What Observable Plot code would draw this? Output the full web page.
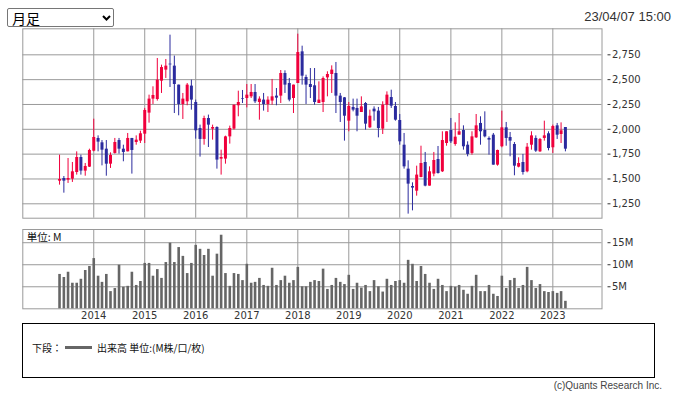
<!DOCTYPE html>
<html><head><meta charset="utf-8">
<script src="https://cdn.jsdelivr.net/npm/d3@7"></script>
<script src="https://cdn.jsdelivr.net/npm/@observablehq/plot@0.6"></script>
<style>
body{margin:0;width:674px;height:399px;position:relative;background:#fff;overflow:hidden;font-family:"Liberation Sans","Noto Sans CJK JP",sans-serif;}
#sel{position:absolute;left:7px;top:8px;width:107px;height:19px;border:1px solid #767676;border-radius:2px;box-sizing:border-box;background:#fff;}
#sel span{position:absolute;left:4px;top:0px;font:14px/18px "Noto Sans CJK JP",sans-serif;color:#000;}
#sel svg{position:absolute;left:94px;top:6px;}
#date{position:absolute;right:3px;top:9px;font:13px "Liberation Sans",sans-serif;color:#333;}
#price{position:absolute;left:0;top:0;}
#vol{position:absolute;left:0;top:222px;}
#legend{position:absolute;left:22px;top:323px;width:633px;height:55px;border:1px solid #000;box-sizing:border-box;font:10px "Noto Sans CJK JP",sans-serif;color:#111;}
#legend .row{position:absolute;left:9px;top:16px;display:flex;align-items:center;white-space:nowrap;}
#legend .ln{display:inline-block;width:27px;height:3px;background:#666;margin:0 5px 0 3px;}
#copy{position:absolute;right:12px;top:380px;font:10px "Liberation Sans",sans-serif;color:#444;}
</style></head>
<body>
<div id="sel"><span>月足</span><svg width="9" height="6" viewBox="0 0 9 6"><path d="M1 1 L4.5 4.5 L8 1" fill="none" stroke="#000" stroke-width="2"/></svg></div>
<div id="date">23/04/07 15:00</div>
<div id="price"></div>
<div id="vol"></div>
<div id="legend"><div class="row">下段：<span class="ln"></span>出来高 単位:(M株/口/枚)</div></div>
<div id="copy">(c)Quants Research Inc.</div>
<script>
// Monthly candles, May 2013 – Apr 2023
const startMonth = new Date(Date.UTC(2013, 4, 1));
const endMonth = new Date(Date.UTC(2023, 4, 1));
const open = [1478,1505,1488,1498,1565,1716,1579,1619,
 1780,1908,1864,1800,1649,1757,1887,1800,1773,1908,1867,1881,
 1951,2163,2304,2300,2485,2596,2656,2636,2445,2250,2277,2435,
 2270,2008,1898,2109,2002,2018,1700,1700,1924,2002,2237,2310,
 2310,2327,2371,2270,2294,2250,2284,2334,2334,2562,2461,2310,
 2461,2780,2522,2451,2438,2260,2270,2518,2552,2562,2334,2317,
 2082,2220,2210,2169,2260,2015,2203,2183,2002,2243,2320,2230,
 2089,1840,1599,1424,1377,1515,1666,1428,1549,1696,1572,1857,
 1988,1847,1941,1988,1840,1757,1914,2059,1988,1908,1941,1639,
 1824,2015,1918,1847,1619,1666,1572,1840,1908,1773,1908,1955,
 1814,2035,1948,2018];
const high = [1740,1525,1706,1666,1773,1740,1656,1800,
 2102,1934,1887,1887,1763,1908,1908,1840,1958,1908,1934,1981,
 2210,2344,2428,2713,2646,2703,2948,2737,2445,2361,2461,2495,
 2294,2042,2132,2143,2042,2025,1790,1931,2032,2243,2384,2391,
 2451,2451,2451,2327,2361,2327,2502,2411,2592,2589,2512,2445,
 2958,2837,2545,2612,2612,2478,2528,2579,2639,2673,2361,2320,
 2270,2304,2304,2327,2270,2193,2226,2220,2277,2377,2394,2270,
 2149,1958,1683,1461,1629,1830,1767,1622,1767,1827,1975,1975,
 2109,2065,2159,2035,1874,1975,2149,2126,2176,1924,1958,1790,
 2183,2069,1968,1867,1713,1747,1857,1975,1934,1908,2082,1975,
 2042,2059,2065,2018];
const low = [1438,1357,1455,1465,1539,1539,1528,1616,
 1773,1773,1632,1528,1606,1750,1750,1673,1773,1549,1840,1857,
 1857,2062,2250,2284,2361,2512,2421,2159,2136,2099,2237,2193,
 1901,1720,1840,1817,1891,1599,1539,1649,1851,1992,2126,2260,
 2216,2310,2260,2092,2183,2169,2243,2237,2260,2361,2277,2159,
 2461,2445,2250,2310,2243,2260,2169,2327,2361,2159,2069,1881,
 1975,2176,1975,2169,1992,2008,2082,1914,1948,2069,2210,2082,
 1840,1599,1146,1179,1327,1512,1421,1428,1522,1549,1565,1830,
 1857,1830,1941,1790,1723,1740,1908,1840,1914,1740,1639,1629,
 1814,1830,1723,1532,1612,1539,1562,1790,1767,1767,1881,1783,
 1757,1898,1857,1773];
const close = [1495,1478,1505,1572,1716,1579,1626,1787,
 1918,1871,1790,1649,1737,1867,1800,1767,1908,1787,1891,1955,
 2190,2304,2341,2495,2622,2636,2649,2451,2250,2304,2445,2294,
 1985,1898,2109,2042,2018,1690,1716,1924,2008,2243,2270,2304,
 2344,2371,2277,2304,2250,2294,2327,2314,2562,2445,2294,2445,
 2773,2535,2445,2421,2270,2294,2512,2552,2596,2334,2270,2132,
 2230,2193,2132,2226,2052,2132,2176,2008,2243,2344,2233,2092,
 1874,1622,1448,1408,1539,1656,1428,1572,1686,1555,1887,1975,
 1874,1921,1975,1824,1747,1924,2035,1975,1924,1891,1639,1787,
 2015,1908,1881,1629,1656,1565,1820,1934,1780,1898,1934,1807,
 2028,1941,1985,1800];
// Volume in millions of shares
const volume = [7.8,7.1,8.3,5.8,5.8,6.7,8.7,9.6,
 11.4,7.4,6.0,7.8,3.9,4.6,9.9,4.9,5.1,8.3,5.3,6.2,
 10.3,10.3,7.4,8.9,6.9,10.5,14.9,10.5,13.9,11.9,8.0,10.3,
 14.4,13.5,12.1,13.5,7.4,12.4,16.7,8.0,5.1,8.0,7.8,6.4,
 10.1,5.8,6.0,6.9,5.3,5.1,9.2,5.3,6.4,7.4,5.8,6.4,
 9.4,5.0,5.0,6.0,6.4,6.2,9.0,4.4,5.3,6.9,6.0,5.5,
 7.6,4.4,5.8,4.7,5.3,3.9,6.4,5.0,3.8,6.7,5.3,6.2,
 6.4,5.8,11.0,10.1,6.2,9.6,7.8,5.8,4.4,6.7,5.3,3.9,
 5.1,4.9,5.3,4.2,3.3,5.1,7.6,3.9,3.9,5.3,3.3,2.8,
 7.4,4.6,6.4,6.9,4.6,5.3,9.4,6.4,4.6,5.5,3.9,3.7,
 3.9,3.5,3.9,1.7];
const priceTicks = [1250,1500,1750,2000,2250,2500,2750];
const volTicks = [5,10,15];
const yearTicks = d3.utcYear.range(new Date(Date.UTC(2014,0,1)), new Date(Date.UTC(2024,0,1)));

const months = d3.utcMonth.range(startMonth, endMonth);
const data = months.map((d, i) => ({date: d, open: open[i], high: high[i], low: low[i], close: close[i], volume: volume[i]}));
const RED = "#f0003c", BLUE = "#2b2b9e", GRID = "#9a9a9a";
const col = d => d.close >= d.open ? RED : BLUE;
const xDomain = [new Date(Date.UTC(2012,7,11)), new Date(Date.UTC(2023,11,19))];
const style = {fontFamily: "DejaVu Sans", fontSize: "10px", color: "#333", background: "transparent", overflow: "visible"};

const price = Plot.plot({
  width: 674, height: 222,
  marginLeft: 22.3, marginRight: 72.5, marginTop: 28.3, marginBottom: 4.3,
  style,
  x: {type: "utc", domain: xDomain, axis: null},
  y: {domain: [1105, 3012], axis: null},
  marks: [
    Plot.ruleY(priceTicks, {stroke: GRID}),
    Plot.ruleX(yearTicks, {stroke: GRID}),
    Plot.frame({stroke: GRID}),
    Plot.ruleX(data, {x: "date", y1: "low", y2: "high", stroke: col, strokeWidth: 1}),
    Plot.ruleX(data, {x: "date", y1: "open", y2: "close", stroke: col, strokeWidth: 3}),
    Plot.axisY(priceTicks, {anchor: "right", label: null, tickSize: 3, tickPadding: 2, dx: 5, tickFormat: d3.format(",")})
  ]
});
document.getElementById("price").append(price);

const vol = Plot.plot({
  width: 674, height: 104,
  marginLeft: 22.3, marginRight: 72.5, marginTop: 7, marginBottom: 17.7,
  style,
  x: {type: "utc", domain: xDomain, axis: null},
  y: {domain: [0, 18], axis: null},
  marks: [
    Plot.ruleY(volTicks, {stroke: GRID}),
    Plot.ruleX(yearTicks, {stroke: GRID}),
    Plot.frame({stroke: GRID}),
    Plot.ruleX(data, {x: "date", y: "volume", stroke: "#666", strokeWidth: 2.6}),
    Plot.axisY(volTicks, {anchor: "right", label: null, tickSize: 3, tickPadding: 2, dx: 5, tickFormat: d => d + "M"}),
    Plot.axisX(yearTicks, {label: null, tickSize: 0, tickPadding: 3, tickFormat: d3.utcFormat("%Y")}),
    Plot.text(["単位: M"], {frameAnchor: "top-left", textAnchor: "start", lineAnchor: "top", dx: 4, dy: 4, fontFamily: "Noto Sans CJK JP", fontSize: 10.5, fill: "#111"})
  ]
});
document.getElementById("vol").append(vol);
</script>
</body></html>
